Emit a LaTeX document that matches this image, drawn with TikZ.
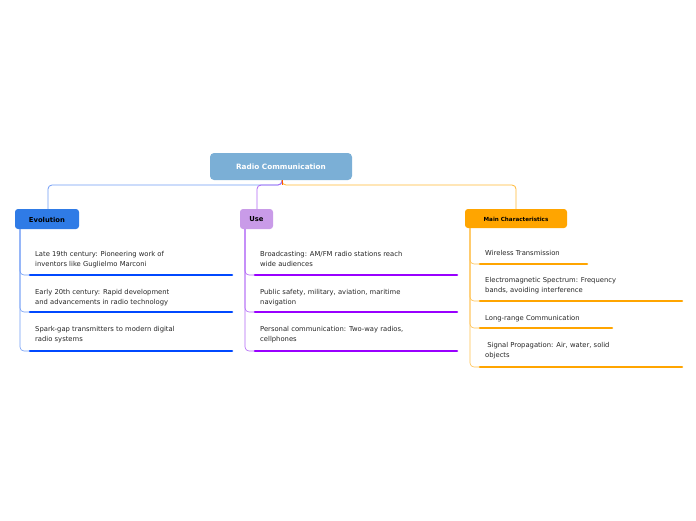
\documentclass[tikz,border=0pt]{standalone}
\usepackage{fontspec}
\setmainfont{DejaVu Sans}
\begin{document}
\begin{tikzpicture}[x=1pt,y=-1pt,
  topic/.style={rounded corners=3pt,anchor=center,font=\bfseries\fontsize{6.8}{8}\selectfont,text=black},
  item/.style={anchor=north west,align=left,inner sep=0pt,font=\fontsize{6.8}{10}\selectfont,text=black!85},
  uline/.style={line width=2.6pt,line cap=round},
  conn/.style={line width=0.8pt,rounded corners=4pt}]
\useasboundingbox (0,0) rectangle (696,520);
\definecolor{rootc}{HTML}{7BAFD6}
\definecolor{evc}{HTML}{2F7BE6}
\definecolor{usec}{HTML}{C99BE8}
\definecolor{mcc}{HTML}{FFA500}
\definecolor{evl}{HTML}{0048FF}
\definecolor{usel}{HTML}{9900FF}
\definecolor{evv}{HTML}{6F9BF5}
\definecolor{usev}{HTML}{B066F5}
\definecolor{mcv}{HTML}{FFC04D}
% root
\fill[rootc,rounded corners=4pt] (210,153) rectangle (352,180);
\node[text=white,font=\bfseries\fontsize{7.3}{9}\selectfont] (root) at (281,167) {Radio Communication};
\coordinate (rb) at (282,180);
% topics
\fill[evc,rounded corners=3pt] (15,209) rectangle (79,229);
\node[topic] (ev) at (47,219.5) {Evolution};
\fill[usec,rounded corners=3pt] (240,209) rectangle (273,229);
\node[topic] (use) at (256.5,219.5) {Use};
\fill[mcc,rounded corners=3pt] (465,209) rectangle (567,228);
\node[topic,font=\bfseries\fontsize{5.6}{7}\selectfont] (mc) at (516,219) {Main Characteristics};
% connectors
\draw[conn,evv] (rb) -- (282,185) -- (48,185) -- (48,209);
\draw[conn,usev] (rb) -- (282,185) -- (257,185) -- (257,209);
\draw[conn,mcc!80] (rb) -- (282,185) -- (516,185) -- (516,209);
\draw[orange!70!red,line width=0.8pt] (282,180) -- (282,185);
% Evolution items
\foreach \y in {275,312,351}{\draw[evv,line width=0.6pt,rounded corners=4pt] (20,229) -- (20,\y) -- (30,\y);}
\draw[uline,evl] (30,275) -- (232,275);
\draw[uline,evl] (30,312) -- (232,312);
\draw[uline,evl] (30,351) -- (232,351);
\node[item] (e1) at (35,251) {Late 19th century: Pioneering work of\\inventors like Guglielmo Marconi};
\node[item] (e2) at (35,289) {Early 20th century: Rapid development\\and advancements in radio technology};
\node[item] (e3) at (35,326) {Spark-gap transmitters to modern digital\\radio systems};
% Use items
\foreach \y in {275,312,351}{\draw[usev,line width=0.6pt,rounded corners=4pt] (245,229) -- (245,\y) -- (255,\y);}
\draw[uline,usel] (255,275) -- (457,275);
\draw[uline,usel] (255,312) -- (457,312);
\draw[uline,usel] (255,351) -- (457,351);
\node[item] (u1) at (260,251) {Broadcasting: AM/FM radio stations reach\\wide audiences};
\node[item] (u2) at (260,289) {Public safety, military, aviation, maritime\\navigation};
\node[item] (u3) at (260,326) {Personal communication: Two-way radios,\\cellphones};
% Main characteristics items
\foreach \y in {264,301,328,367}{\draw[mcv,line width=0.6pt,rounded corners=4pt] (470,228) -- (470,\y) -- (480,\y);}
\draw[uline,mcc] (480,264) -- (587,264);
\draw[uline,mcc] (480,301) -- (682,301);
\draw[uline,mcc] (480,328) -- (612,328);
\draw[uline,mcc] (480,367) -- (682,367);
\node[item] (m1) at (485,250) {Wireless Transmission};
\node[item] (m2) at (485,277) {Electromagnetic Spectrum: Frequency\\bands, avoiding interference};
\node[item] (m3) at (485,315) {Long-range Communication};
\node[item] (m4) at (485,342) {\ Signal Propagation: Air, water, solid\\objects};
\end{tikzpicture}
\end{document}
